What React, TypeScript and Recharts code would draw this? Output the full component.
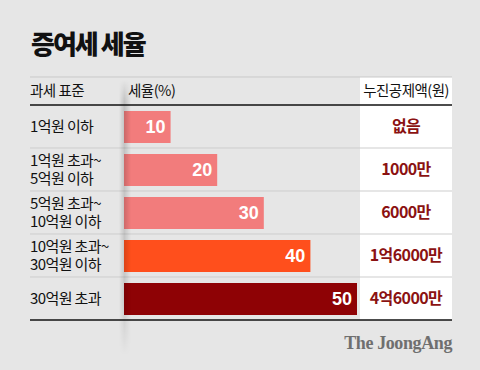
import React from "react";
import { BarChart, Bar, XAxis, YAxis, Cell, LabelList } from "recharts";

const brackets = [
  "1억원 이하",
  "1억원 초과~\n5억원 이하",
  "5억원 초과~\n10억원 이하",
  "10억원 초과~\n30억원 이하",
  "30억원 초과",
];
const rates = [10, 20, 30, 40, 50];
const deductions = ["없음", "1000만", "6000만", "1억6000만", "4억6000만"];
const barColors = ["#f27c7c", "#f27c7c", "#f27c7c", "#ff4f1c", "#8e0205"];

const title = "증여세 세율";
const headers = ["과세 표준", "세율(%)", "누진공제액(원)"];
const source = "The JoongAng";

const data = brackets.map((b, i) => ({ bracket: b, rate: rates[i], deduction: deductions[i] }));

const W = 480;
const H = 370;
const TOP = 105;
const BOTTOM = 320;
const LEFT = 30;
const RIGHT = 452;
const ROW = (BOTTOM - TOP) / brackets.length;
const KFONT = "'Noto Sans CJK KR', 'Noto Sans', sans-serif";

const LeftTick = (props: any) => {
  const { y, payload } = props;
  const lines = String(payload.value).split("\n");
  const lh = 17.5;
  const start = y - ((lines.length - 1) * lh) / 2;
  return (
    <g>
      {lines.map((l, i) => (
        <text key={i} x={LEFT} y={start + i * lh + 5.5} fill="#111" fontSize={15} fontFamily={KFONT} letterSpacing={-0.6}>
          {l}
        </text>
      ))}
    </g>
  );
};

const RightTick = (props: any) => {
  const { y, payload } = props;
  return (
    <text x={(360 + RIGHT) / 2} y={y + 5.5} textAnchor="middle" fill="#8b1212" fontSize={16} fontWeight={700} fontFamily={KFONT} letterSpacing={-0.6}>
      {payload.value}
    </text>
  );
};

export default function App() {
  const rowLines = [];
  for (let i = 1; i < brackets.length; i++) rowLines.push(TOP + i * ROW);
  return (
    <div style={{ position: "relative", width: W, height: H, background: "#e6e6e6", overflow: "hidden" }}>
      <style>{`html,body{margin:0;padding:0;background:#e6e6e6;overflow:hidden}`}</style>
      <svg width={W} height={H} style={{ position: "absolute", left: 0, top: 0 }}>
        <rect x={360} y={77} width={RIGHT - 360} height={BOTTOM - 77} fill="#ffffff" />
        <line x1={LEFT} x2={RIGHT} y1={77} y2={77} stroke="#c9c9c9" strokeWidth={1} />
        {rowLines.map((y, i) => (
          <line key={i} x1={LEFT} x2={RIGHT} y1={y} y2={y} stroke="#cdcdcd" strokeWidth={1} />
        ))}
        <text x={31} y={54} fontSize={26} fontWeight={900} fontFamily={KFONT} letterSpacing={-2} fill="#111">{title}</text>
        <text x={LEFT} y={96} fontSize={14.5} fontFamily={KFONT} letterSpacing={-0.5} fill="#111">{headers[0]}</text>
        <text x={128} y={96} fontSize={14.5} fontFamily={KFONT} letterSpacing={-0.5} fill="#111">{headers[1]}</text>
        <text x={449} y={96} fontSize={14.5} fontFamily={KFONT} letterSpacing={-0.5} fill="#111" textAnchor="end">{headers[2]}</text>
        <text x={RIGHT} y={349} fontSize={18} fontWeight={700} fontFamily="'Liberation Serif', 'DejaVu Serif', serif" letterSpacing={-0.4} fill="#6f6f6f" textAnchor="end">{source}</text>
      </svg>
      <div style={{ position: "absolute", left: 0, top: 0 }}>
        <BarChart
          width={W}
          height={H}
          layout="vertical"
          data={data}
          margin={{ top: TOP, bottom: H - BOTTOM, left: LEFT, right: W - RIGHT }}
        >
          <XAxis type="number" domain={[0, 50]} hide />
          <YAxis yAxisId="left" type="category" dataKey="bracket" width={94} axisLine={false} tickLine={false} tick={<LeftTick />} interval={0} />
          <YAxis yAxisId="right" orientation="right" type="category" dataKey="deduction" width={95} axisLine={false} tickLine={false} tick={<RightTick />} interval={0} />
          <Bar yAxisId="left" dataKey="rate" barSize={32} isAnimationActive={false}>
            {data.map((d, i) => (
              <Cell key={i} fill={barColors[i]} />
            ))}
            <LabelList dataKey="rate" position="insideRight" offset={5} fill="#ffffff" fontSize={18} fontWeight={700} fontFamily="'Liberation Sans', Arial, sans-serif" />
          </Bar>
        </BarChart>
      </div>
      <svg width={W} height={H} style={{ position: "absolute", left: 0, top: 0, pointerEvents: "none" }}>
        <defs>
          <linearGradient id="sh" x1="0" x2="1" y1="0" y2="0">
            <stop offset="0" stopColor="#000" stopOpacity={0} />
            <stop offset="0.45" stopColor="#000" stopOpacity={0.16} />
            <stop offset="1" stopColor="#000" stopOpacity={0} />
          </linearGradient>
          <linearGradient id="fade" x1="0" x2="0" y1="0" y2="1">
            <stop offset="0" stopColor="#fff" stopOpacity={0} />
            <stop offset="0.08" stopColor="#fff" stopOpacity={1} />
            <stop offset="0.8" stopColor="#fff" stopOpacity={0.8} />
            <stop offset="1" stopColor="#fff" stopOpacity={0} />
          </linearGradient>
          <mask id="m">
            <rect x={118} y={80} width={16} height={275} fill="url(#fade)" />
          </mask>
        </defs>
        <rect x={119} y={80} width={12} height={275} fill="url(#sh)" mask="url(#m)" />
      </svg>
      <svg width={W} height={H} style={{ position: "absolute", left: 0, top: 0, pointerEvents: "none" }}>
        <line x1={LEFT} x2={RIGHT} y1={TOP} y2={TOP} stroke="#111" strokeWidth={1.5} />
        <line x1={LEFT} x2={RIGHT} y1={BOTTOM} y2={BOTTOM} stroke="#111" strokeWidth={1.5} />
      </svg>
    </div>
  );
}
